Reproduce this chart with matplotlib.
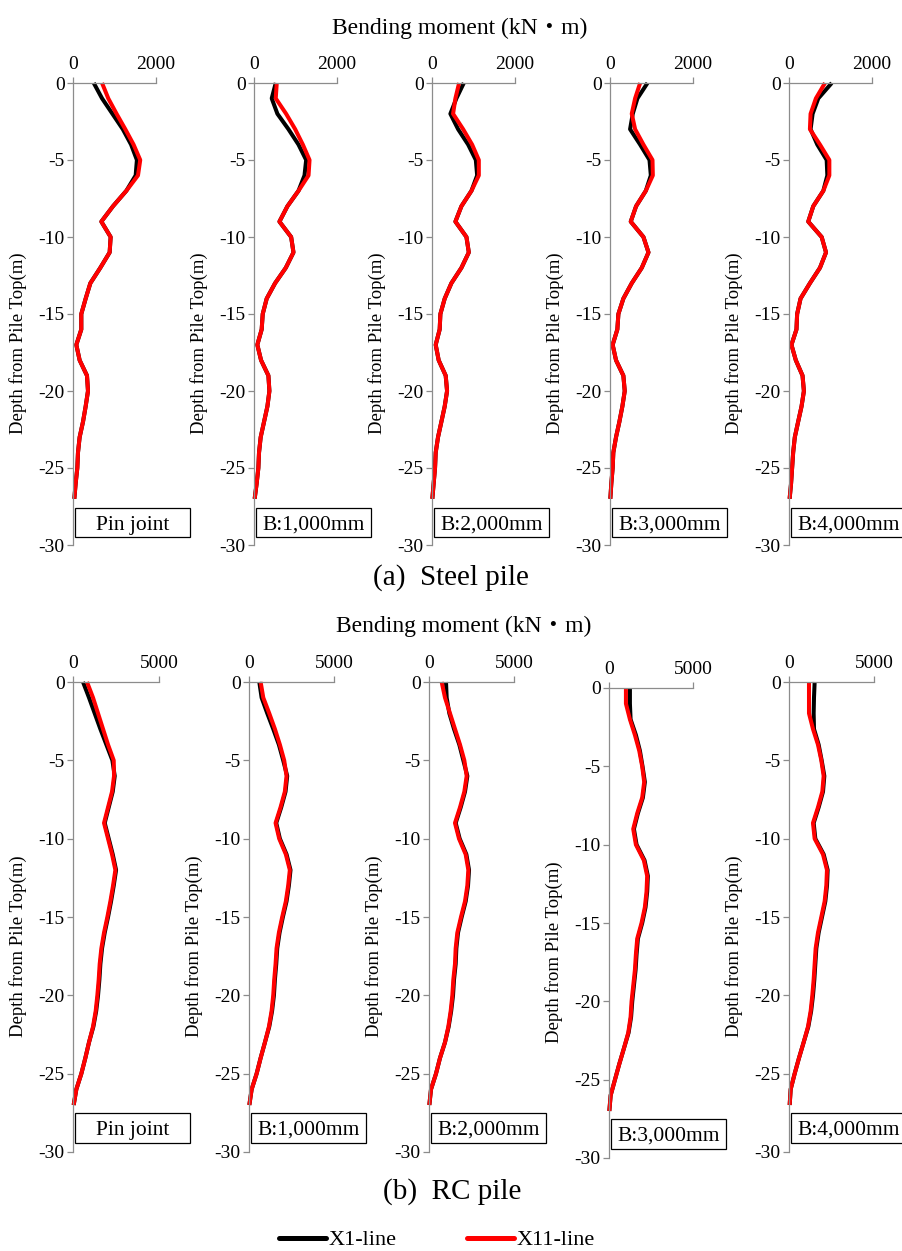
import matplotlib
matplotlib.use("Agg")
import matplotlib.pyplot as plt
from matplotlib.lines import Line2D
from matplotlib.patches import Rectangle
import matplotlib.transforms as mtransforms

plt.rcParams["font.family"] = ["Liberation Serif", "Noto Sans CJK JP"]
plt.rcParams["axes.unicode_minus"] = False

# Depth below pile top (m)
depth = [0, -1, -2, -3, -4, -5, -6, -7, -8, -9, -10, -11, -12, -13,
         -14, -15, -16, -17, -18, -19, -20, -21, -22, -23, -24, -25, -26, -27]

# Steel pile bending moment (kN·m)
steel_pin_x1 = [500, 700, 950, 1200, 1400, 1540, 1510, 1285, 964, 683, 907, 883, 658, 418,
                305, 200, 200, 80, 160, 337, 361, 305, 241, 160, 120, 104, 64, 32]
steel_pin_x11 = [700, 850, 1050, 1260, 1460, 1620, 1566, 1285, 964, 683, 907, 883, 658, 418,
                 305, 200, 200, 80, 160, 337, 361, 305, 241, 160, 120, 104, 64, 32]
steel_b1_x1 = [524, 427, 564, 830, 1072, 1257, 1217, 1072, 806, 613, 895, 951, 766, 508,
               306, 210, 185, 80, 170, 347, 371, 323, 242, 161, 121, 105, 64, 16]
steel_b1_x11 = [548, 524, 774, 992, 1177, 1338, 1314, 1072, 806, 613, 895, 951, 766, 508,
                306, 210, 185, 80, 170, 347, 371, 323, 242, 161, 121, 105, 64, 16]
steel_b2_x1 = [766, 588, 443, 629, 871, 1056, 1088, 951, 709, 564, 830, 887, 709, 467,
               306, 202, 185, 89, 161, 330, 363, 306, 226, 145, 89, 73, 40, 8]
steel_b2_x11 = [653, 564, 508, 750, 967, 1128, 1128, 951, 709, 564, 830, 887, 709, 467,
                306, 202, 185, 89, 161, 330, 363, 306, 226, 145, 89, 73, 40, 8]
steel_b3_x1 = [903, 661, 548, 484, 726, 952, 984, 863, 629, 500, 806, 927, 766, 524,
               322, 202, 177, 64, 145, 322, 355, 298, 226, 145, 80, 64, 32, 8]
steel_b3_x11 = [726, 605, 524, 605, 806, 1024, 1032, 863, 629, 500, 806, 927, 766, 524,
                322, 202, 177, 64, 145, 322, 355, 298, 226, 145, 80, 64, 32, 8]
steel_b4_x1 = [1030, 706, 569, 520, 682, 908, 924, 827, 585, 464, 787, 892, 746, 504,
               278, 196, 180, 59, 164, 326, 359, 302, 220, 140, 100, 75, 50, 15]
steel_b4_x11 = [867, 648, 520, 504, 746, 972, 972, 827, 585, 464, 787, 892, 746, 504,
                278, 196, 180, 59, 164, 326, 359, 302, 220, 140, 100, 75, 50, 15]

# RC pile bending moment (kN·m)
rc_pin_x1 = [582, 931, 1261, 1591, 1940, 2290, 2426, 2310, 2077, 1844, 2077, 2310, 2504, 2368,
             2213, 2038, 1844, 1689, 1592, 1534, 1456, 1349, 1184, 931, 718, 485, 194, 39]
rc_pin_x11 = [815, 1164, 1455, 1746, 2037, 2367, 2386, 2270, 2037, 1804, 2037, 2270, 2464, 2328,
              2173, 1998, 1804, 1649, 1552, 1494, 1416, 1319, 1164, 931, 718, 485, 194, 39]
rc_b1_x1 = [606, 742, 1074, 1426, 1758, 2012, 2247, 2149, 1895, 1603, 1817, 2208, 2442, 2345,
            2208, 1993, 1798, 1661, 1603, 1524, 1466, 1358, 1192, 938, 684, 449, 156, 20]
rc_b1_x11 = [684, 840, 1191, 1523, 1816, 2070, 2207, 2109, 1855, 1563, 1777, 2168, 2402, 2305,
             2168, 1953, 1758, 1621, 1563, 1484, 1426, 1328, 1172, 938, 684, 449, 156, 20]
rc_b2_x1 = [1000, 1039, 1196, 1471, 1784, 2020, 2256, 2118, 1864, 1569, 1805, 2197, 2354, 2295,
            2158, 1922, 1707, 1609, 1569, 1471, 1413, 1305, 1157, 941, 647, 412, 118, 20]
rc_b2_x11 = [745, 941, 1235, 1529, 1824, 2078, 2216, 2078, 1824, 1529, 1765, 2157, 2314, 2255,
             2118, 1882, 1667, 1569, 1529, 1431, 1373, 1275, 1137, 941, 647, 412, 118, 20]
rc_b3_x1 = [1245, 1245, 1285, 1601, 1839, 1995, 2135, 2016, 1720, 1483, 1641, 2115, 2313, 2273,
            2174, 1977, 1720, 1641, 1582, 1483, 1384, 1315, 1166, 889, 612, 355, 99, 20]
rc_b3_x11 = [1008, 1008, 1245, 1542, 1800, 1976, 2095, 1976, 1680, 1443, 1601, 2075, 2273, 2233,
             2134, 1937, 1680, 1601, 1542, 1443, 1344, 1285, 1146, 889, 612, 355, 99, 20]
rc_b4_x1 = [1509, 1470, 1450, 1470, 1744, 1921, 2078, 2000, 1745, 1451, 1549, 2039, 2274, 2235,
            2137, 1941, 1745, 1608, 1549, 1490, 1412, 1304, 1137, 862, 588, 333, 98, 39]
rc_b4_x11 = [1176, 1176, 1176, 1411, 1705, 1901, 2038, 1960, 1705, 1411, 1509, 1999, 2234, 2195,
             2097, 1901, 1705, 1568, 1509, 1450, 1372, 1274, 1117, 862, 588, 333, 98, 39]

case_labels = ["Pin joint", "B:1,000mm", "B:2,000mm", "B:3,000mm", "B:4,000mm"]
series_labels = ["X1-line", "X11-line"]
steel_series = [(steel_pin_x1, steel_pin_x11), (steel_b1_x1, steel_b1_x11),
                (steel_b2_x1, steel_b2_x11), (steel_b3_x1, steel_b3_x11),
                (steel_b4_x1, steel_b4_x11)]
rc_series = [(rc_pin_x1, rc_pin_x11), (rc_b1_x1, rc_b1_x11), (rc_b2_x1, rc_b2_x11),
             (rc_b3_x1, rc_b3_x11), (rc_b4_x1, rc_b4_x11)]

W, H = 903, 1251
fig = plt.figure(figsize=(W / 100, H / 100), dpi=100)

GRAY = "#8c8c8c"
LINE_COLORS = ["black", "#ff0000"]


def panel(left, top, width, height, xmax, series, label, box_y, text_y):
    ax = fig.add_axes([left / W, 1 - (top + height) / H, width / W, height / H])
    for vals, col in zip(series, LINE_COLORS):
        ax.plot(vals, depth, color=col, lw=2.9, solid_joinstyle="round",
                solid_capstyle="butt", clip_on=False)
    ax.set_xlim(0, xmax)
    ax.set_ylim(-30, 0)
    ax.set_xticks([0, xmax])
    ax.set_yticks([0, -5, -10, -15, -20, -25, -30])
    ax.xaxis.tick_top()
    for side in ("right", "bottom"):
        ax.spines[side].set_visible(False)
    for side in ("left", "top"):
        ax.spines[side].set_color(GRAY)
        ax.spines[side].set_linewidth(0.9)
    ax.tick_params(axis="both", direction="out", length=4, width=0.9, color=GRAY,
                   labelsize=14, labelcolor="black")
    ax.tick_params(axis="y", pad=2)
    ax.tick_params(axis="x", pad=3)
    ax.patch.set_alpha(0)
    ax.set_ylabel("Depth from Pile Top(m)", fontsize=13.5, va="center")
    ax.yaxis.set_label_coords(-55 / width, 0.437)
    # case label box
    trans = mtransforms.blended_transform_factory(ax.transAxes, ax.transData)
    x0 = 2 / width
    bw = 115 / width
    rect = Rectangle((x0, box_y[0]), bw, box_y[1] - box_y[0], transform=trans,
                     facecolor="white", edgecolor="black", lw=0.9, clip_on=False, zorder=5)
    ax.add_patch(rect)
    ax.text(x0 + bw / 2, text_y, label, transform=trans,
            ha="center", va="baseline", fontsize=15.5, zorder=6, clip_on=False)
    return ax


# Steel pile row
steel_lefts = [73, 254, 432, 610, 789]
for i in range(5):
    panel(steel_lefts[i], 83, 83, 462, 2000, steel_series[i], case_labels[i],
          (-29.5, -27.6), -29.0)

# RC pile row
rc_lefts = [73, 249, 429, 609, 789]
rc_tops = [682, 682, 682, 688, 682]
rc_widths = [86, 85, 85, 84, 85]
for i in range(5):
    panel(rc_lefts[i], rc_tops[i], rc_widths[i], 470, 5000, rc_series[i], case_labels[i],
          (-29.4, -27.5), -28.9)

# Titles
fig.text(460 / W, 1 - 28 / H, "Bending moment (kN・m)", ha="center", va="center", fontsize=17)
fig.text(451 / W, 1 - 578 / H, "(a)  Steel pile", ha="center", va="center", fontsize=21)
fig.text(464 / W, 1 - 626 / H, "Bending moment (kN・m)", ha="center", va="center", fontsize=17)
fig.text(452 / W, 1 - 1192 / H, "(b)  RC pile", ha="center", va="center", fontsize=21)

# Legend
handles = [Line2D([], [], color=c, lw=3.6, solid_capstyle="round") for c in LINE_COLORS]
fig.legend(handles, series_labels, loc="center", bbox_to_anchor=(437 / W, 1 - 1240 / H),
           ncol=2, frameon=False, fontsize=16, handlelength=2.1, handletextpad=0.1,
           columnspacing=3.2, borderpad=0, borderaxespad=0)

fig.savefig("out.png", dpi=100)
